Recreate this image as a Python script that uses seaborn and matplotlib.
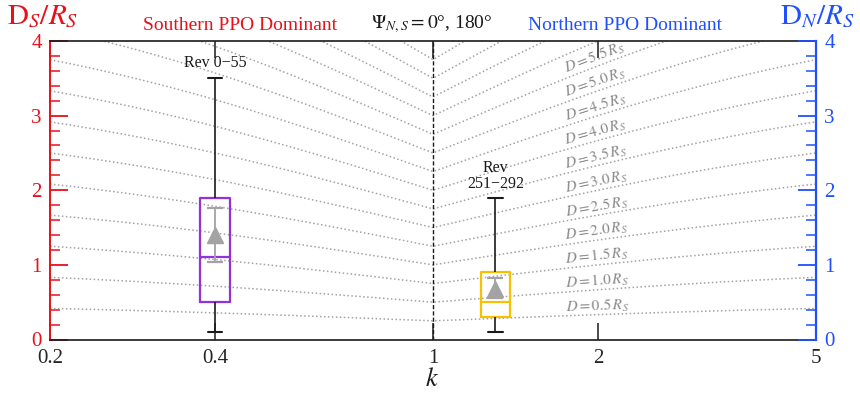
import numpy as np
import pandas as pd
import matplotlib
matplotlib.use("Agg")
import matplotlib.pyplot as plt
from matplotlib.ticker import MultipleLocator, NullLocator, FixedLocator, FixedFormatter
import seaborn as sns

# ---------------- data ----------------
k_ticks = [0.2, 0.4, 1, 2, 5]
k_tick_labels = ["0.2", "0.4", "1", "2", "5"]
y_ticks = [0, 1, 2, 3, 4]
y_tick_labels = ["0", "1", "2", "3", "4"]

D_values = [0.5, 1.0, 1.5, 2.0, 2.5, 3.0, 3.5, 4.0, 4.5, 5.0, 5.5, 6.0, 6.5, 7.0, 7.5, 8.0]
D_labeled = [0.5, 1.0, 1.5, 2.0, 2.5, 3.0, 3.5, 4.0, 4.5, 5.0, 5.5]
D_label_text = ["0.5", "1.0", "1.5", "2.0", "2.5", "3.0", "3.5", "4.0", "4.5", "5.0", "5.5"]
k_label = 2.0

box_k = [0.4, 1.3]
box_groups = ["south", "north"]
box_names = ["Rev 0\u221255", "Rev\n251\u2212292"]
# whisker low, q1, median, q3, whisker high
south_stats = [0.1, 0.5, 1.1, 1.9, 3.5]
north_stats = [0.1, 0.3, 0.5, 0.9, 1.9]
mean_vals = [1.4, 0.68]
mean_lo = [1.04, 0.55]
mean_hi = [1.76, 0.82]

RED = "#E8101A"
BLUE = "#1F4FFF"
PURPLE = "#9430DC"
GOLD = "#F7C000"
GRAY = "#A3A3A3"

sns.set_theme(style="white")
plt.rcParams["font.family"] = ["Liberation Serif", "DejaVu Serif"]
plt.rcParams["mathtext.fontset"] = "stix"

fig = plt.figure(figsize=(8.6, 3.93), dpi=100)
ax = fig.add_axes([50 / 860, 1 - 339.5 / 393, 766 / 860, (339.5 - 41) / 393])
ax.set_xscale("log")
ax.set_xlim(0.2, 5)
ax.set_ylim(0, 4)

# ---------------- model curves ----------------
k_grid = np.logspace(np.log10(0.2), np.log10(5), 401)
rows = []
for D in D_values:
    for kk in k_grid:
        r = min(kk, 1.0 / kk)
        rows.append((D, kk, D / (1.0 + r)))
df_c = pd.DataFrame(rows, columns=["D", "k", "val"])
sns.lineplot(data=df_c, x="k", y="val", units="D", estimator=None, color=GRAY,
             linestyle=(0, (1, 1.6)), linewidth=1.1, legend=False, ax=ax, zorder=1)

ax.axvline(1, color="k", linestyle=(0, (3, 1.5)), linewidth=1.0, zorder=2)

# ---------------- boxes ----------------
df_b = pd.DataFrame({
    "k": [box_k[0]] * 5 + [box_k[1]] * 5,
    "D": south_stats + north_stats,
    "grp": [box_groups[0]] * 5 + [box_groups[1]] * 5,
})
sns.boxplot(data=df_b, x="k", y="D", hue="grp", palette=[PURPLE, GOLD],
            native_scale=True, fill=False, width=0.105, whis=(0, 100),
            linewidth=1.6, showfliers=False, legend=False, ax=ax,
            whiskerprops=dict(color="k", linewidth=1.2),
            capprops=dict(color="k", linewidth=1.5))

ax.errorbar(box_k, mean_vals,
            yerr=[np.subtract(mean_vals, mean_lo), np.subtract(mean_hi, mean_vals)],
            fmt="^", color=GRAY, ms=11, capsize=6, elinewidth=1.3, capthick=1.6, zorder=5)

ax.text(box_k[0], 3.6, box_names[0], ha="center", va="bottom", fontsize=11.5, color="k")
ax.text(box_k[1], 1.98, box_names[1], ha="center", va="bottom", fontsize=11.5,
        color="k", linespacing=1.0)

ax.set_xlim(0.2, 5)
ax.set_ylim(0, 4)

# ---------------- D labels ----------------
for D, lab in zip(D_labeled, D_label_text):
    yv = D * k_label / (1 + k_label)
    k1, k2 = k_label / 1.05, k_label * 1.05
    p1 = ax.transData.transform((k1, D * k1 / (1 + k1)))
    p2 = ax.transData.transform((k2, D * k2 / (1 + k2)))
    ang = np.degrees(np.arctan2(p2[1] - p1[1], p2[0] - p1[0]))
    ax.text(k_label, yv, r"$D = %s\,R_S$" % lab, rotation=ang, rotation_mode="anchor",
            ha="center", va="bottom", fontsize=11, color="#8A8A8A", zorder=3)

# ---------------- axes styling ----------------
ax.xaxis.set_major_locator(FixedLocator(k_ticks))
ax.xaxis.set_major_formatter(FixedFormatter(k_tick_labels))
ax.xaxis.set_minor_locator(NullLocator())
ax.tick_params(axis="x", which="major", direction="in", length=12, width=1.1,
               top=True, bottom=True, labelsize=15, pad=7, color="k")
ax.set_xlabel("")
ax.set_ylabel("")

ax.yaxis.set_major_locator(FixedLocator(y_ticks))
ax.yaxis.set_major_formatter(FixedFormatter(y_tick_labels))
ax.yaxis.set_minor_locator(MultipleLocator(0.2))
ax.tick_params(axis="y", which="major", direction="in", length=13, width=1.3,
               colors=RED, labelsize=15, pad=6, right=False)
ax.tick_params(axis="y", which="minor", direction="in", length=7, width=1.1,
               color=RED, right=False)

for s in ["top", "bottom"]:
    ax.spines[s].set_color("k")
    ax.spines[s].set_linewidth(1.2)
ax.spines["left"].set_color(RED)
ax.spines["left"].set_linewidth(1.4)
ax.spines["right"].set_visible(False)

ax2 = ax.twinx()
ax2.set_ylim(0, 4)
ax2.yaxis.set_major_locator(FixedLocator(y_ticks))
ax2.yaxis.set_major_formatter(FixedFormatter(y_tick_labels))
ax2.yaxis.set_minor_locator(MultipleLocator(0.2))
ax2.tick_params(axis="y", which="major", direction="in", length=13, width=1.3,
                colors=BLUE, labelsize=15, pad=6)
ax2.tick_params(axis="y", which="minor", direction="in", length=7, width=1.1, color=BLUE)
for s in ["top", "bottom", "left"]:
    ax2.spines[s].set_visible(False)
ax2.spines["right"].set_color(BLUE)
ax2.spines["right"].set_linewidth(1.6)
ax2.grid(False)
ax.grid(False)

# ---------------- titles ----------------
fig.text(43 / 860, 1 - 17 / 393, r"$\mathrm{D}_S/R_S$", color=RED, fontsize=21,
         ha="center", va="center")
fig.text(817 / 860, 1 - 17 / 393, r"$\mathrm{D}_N/R_S$", color=BLUE, fontsize=21,
         ha="center", va="center")
fig.text(240 / 860, 1 - 26 / 393, "Southern PPO Dominant", color=RED, fontsize=14,
         ha="center", va="center")
fig.text(625 / 860, 1 - 26 / 393, "Northern PPO Dominant", color=BLUE, fontsize=14,
         ha="center", va="center")
fig.text(432 / 860, 1 - 24 / 393, r"$\Psi_{N,S} = 0$°, 180°", color="k", fontsize=14,
         ha="center", va="center")
fig.text(432 / 860, 1 - 380 / 393, r"$k$", color="k", fontsize=19, ha="center", va="center")

fig.savefig("out.png", dpi=100)
